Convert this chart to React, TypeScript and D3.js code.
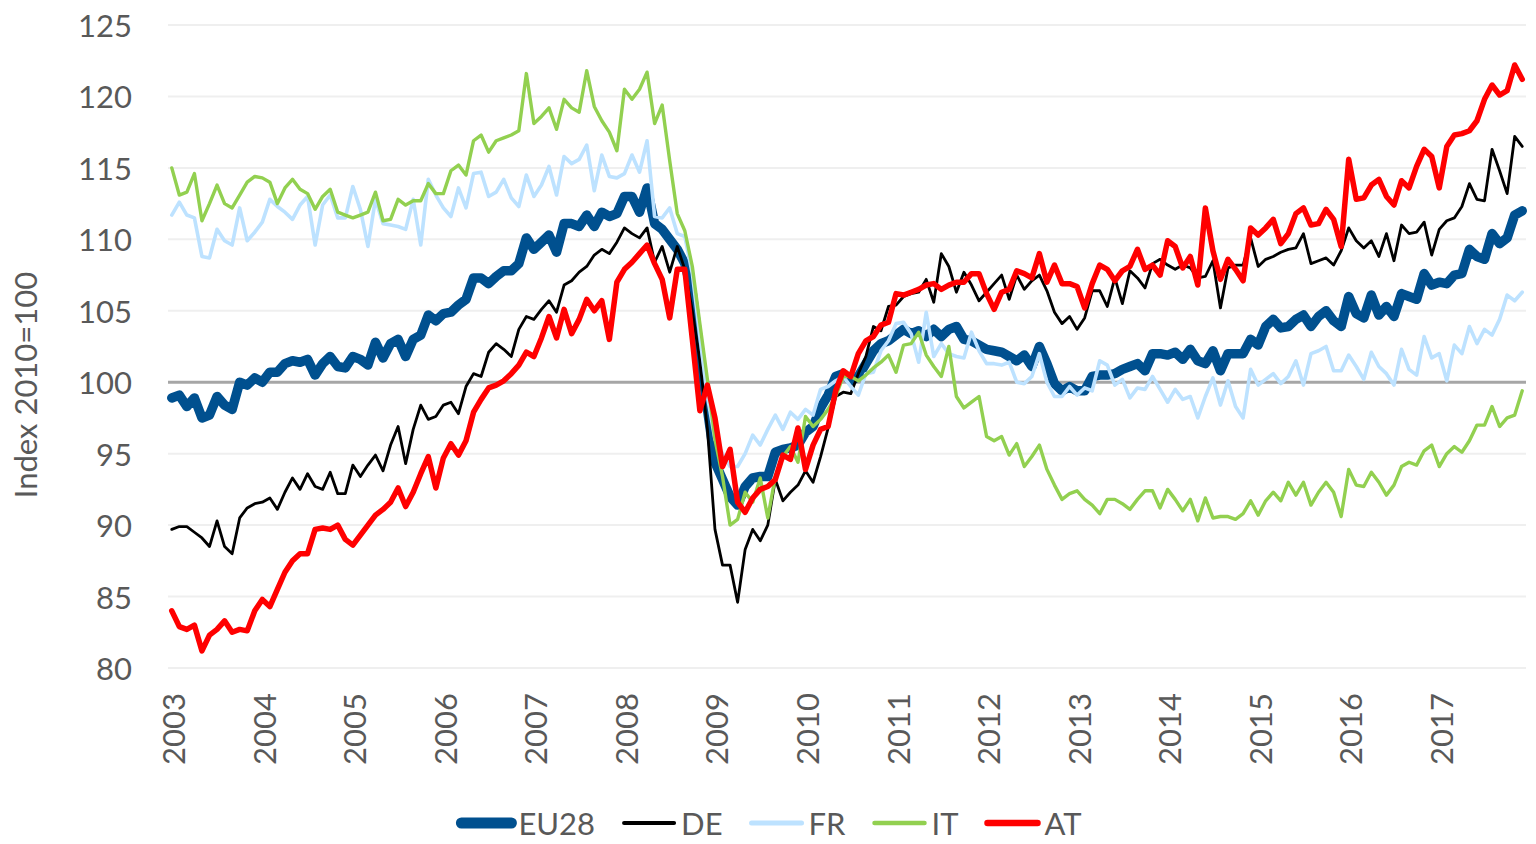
import React from "react";
import * as d3 from "d3";

const years = ["2003","2004","2005","2006","2007","2008","2009","2010","2011","2012","2013","2014","2015","2016","2017"];
const monthsPerYear = 12;
const yTicks = [80, 85, 90, 95, 100, 105, 110, 115, 120, 125];

const eu28 = [
  98.9, 99.1, 98.3, 98.9, 97.5, 97.7, 99.0, 98.4, 98.1, 100.0, 99.8, 100.3,
  100.0, 100.7, 100.7, 101.3, 101.5, 101.4, 101.6, 100.5, 101.3, 101.8, 101.1, 101.0,
  101.8, 101.6, 101.2, 102.8, 101.7, 102.7, 103.0, 101.8, 103.0, 103.3, 104.7, 104.3,
  104.8, 104.9, 105.4, 105.8, 107.3, 107.3, 106.9, 107.4, 107.8, 107.8, 108.3, 110.1,
  109.3, 109.8, 110.3, 109.1, 111.1, 111.1, 110.9, 111.7, 110.9, 111.9, 111.6, 111.8,
  113.0, 113.0, 111.9, 113.6, 111.1, 110.7, 110.0, 109.3, 108.3, 106.2, 102.0, 98.1,
  94.4, 93.2, 92.0, 91.4, 92.7, 93.3, 93.4, 93.4, 95.1, 95.3, 95.4, 95.6,
  96.5, 96.9, 98.2, 99.1, 100.4, 100.6, 100.1, 100.4, 101.3, 102.2, 102.7, 102.9,
  103.3, 103.7, 103.4, 103.6, 103.2, 103.7, 103.2, 103.7, 103.9, 103.0, 102.9, 102.6,
  102.3, 102.2, 102.1, 101.8, 101.5, 101.9, 101.1, 102.5, 101.3, 99.9, 99.4, 99.7,
  99.4, 99.4, 100.4, 100.5, 100.5, 100.6, 100.9, 101.1, 101.3, 100.8, 102.0, 102.0,
  101.9, 102.1, 101.6, 102.3, 101.5, 101.3, 102.2, 100.8, 102.0, 102.0, 102.0, 103.0,
  102.6, 103.9, 104.4, 103.8, 103.9, 104.4, 104.7, 103.9, 104.6, 105.0, 104.3, 103.9,
  106.0, 104.8, 104.5, 106.1, 104.7, 105.3, 104.6, 106.2, 106.0, 105.8, 107.6, 106.8,
  107.0, 106.9, 107.5, 107.6, 109.3, 108.8, 108.6, 110.4, 109.7, 110.1, 111.7, 112.0
];

const de = [
  89.7, 89.9, 89.9, 89.5, 89.1, 88.5, 90.3, 88.5, 88.0, 90.5, 91.2, 91.5,
  91.6, 91.9, 91.1, 92.3, 93.3, 92.5, 93.6, 92.7, 92.5, 93.7, 92.2, 92.2,
  94.2, 93.4, 94.2, 94.9, 93.8, 95.6, 96.9, 94.3, 96.7, 98.4, 97.4, 97.6,
  98.4, 98.6, 97.8, 99.7, 100.6, 100.4, 102.1, 102.7, 102.3, 101.8, 103.7, 104.6,
  104.4, 105.1, 105.7, 104.9, 106.8, 107.1, 107.7, 108.1, 108.9, 109.3, 109.0, 109.8,
  110.8, 110.4, 110.1, 110.8, 108.4, 109.5, 107.7, 109.5, 107.9, 105.0, 101.5, 96.7,
  89.7, 87.2, 87.2, 84.6, 88.3, 89.7, 88.9, 90.0, 93.2, 91.7, 92.3, 92.8,
  93.8, 93.0, 94.8, 96.8, 99.0, 99.3, 99.2, 100.6, 101.8, 103.9, 103.6, 105.3,
  105.4, 106.0, 106.2, 106.3, 107.2, 105.6, 109.0, 108.1, 106.3, 107.7, 106.8, 105.7,
  106.3, 106.9, 107.5, 105.8, 107.5, 106.5, 107.1, 107.5, 106.4, 104.9, 104.1, 104.6,
  103.7, 104.5, 106.4, 106.4, 105.3, 107.3, 105.5, 107.8, 107.3, 106.6, 108.3, 108.6,
  108.2, 107.9, 108.2, 108.0, 107.3, 107.4, 108.5, 105.2, 108.0, 108.2, 108.2, 110.1,
  108.1, 108.6, 108.8, 109.1, 109.3, 109.4, 110.4, 108.3, 108.5, 108.7, 108.2, 109.2,
  110.8, 109.9, 109.4, 109.9, 108.8, 110.4, 108.5, 111.0, 110.4, 110.5, 111.2, 108.9,
  110.7, 111.3, 111.5, 112.3, 113.9, 112.8, 112.7, 116.3, 114.8, 113.2, 117.2, 116.5
];

const fr = [
  111.7, 112.6, 111.7, 111.5, 108.8, 108.7, 110.7, 109.9, 109.6, 112.2, 109.9, 110.5,
  111.2, 112.8, 112.3, 111.9, 111.4, 112.4, 113.0, 109.6, 112.4, 113.1, 111.5, 111.5,
  113.7, 112.1, 109.5, 112.8, 111.1, 111.0, 110.9, 110.7, 112.8, 109.6, 114.2, 113.1,
  112.2, 111.6, 113.6, 112.2, 114.6, 114.7, 113.0, 113.3, 114.2, 112.9, 112.3, 114.5,
  113.0, 113.8, 115.1, 113.1, 115.8, 115.3, 115.6, 116.6, 113.4, 115.9, 114.4, 114.3,
  114.6, 115.9, 114.7, 116.9, 111.6, 111.5, 112.2, 110.4, 110.2, 107.6, 103.2, 99.0,
  96.0, 95.0, 94.1, 94.1, 95.0, 96.3, 95.6, 96.7, 97.7, 96.7, 97.9, 97.4,
  98.1, 97.7, 99.5, 99.7, 100.1, 100.4, 99.7, 99.1, 100.6, 100.7, 102.2, 102.9,
  104.1, 104.2, 103.4, 101.4, 104.9, 101.8, 102.7, 102.0, 101.8, 101.7, 103.5, 102.2,
  101.3, 101.3, 101.2, 101.4, 100.0, 99.9, 100.4, 102.0, 100.0, 99.0, 99.0, 99.7,
  99.1, 99.6, 99.4, 101.5, 101.2, 99.8, 100.2, 98.9, 99.6, 99.5, 100.4, 99.5,
  98.6, 99.5, 98.8, 99.0, 97.5, 99.0, 100.3, 98.4, 100.1, 98.3, 97.5, 100.9,
  99.8, 100.2, 100.6, 99.9, 100.4, 101.5, 99.8, 102.0, 102.2, 102.5, 100.8, 100.8,
  101.9, 101.1, 100.2, 102.1, 101.1, 100.6, 99.8, 102.3, 100.9, 100.5, 103.2, 101.7,
  102.0, 100.1, 102.6, 102.0, 103.9, 102.7, 103.7, 103.3, 104.4, 106.1, 105.7, 106.3
];

const it = [
  115.0, 113.1, 113.3, 114.6, 111.3, 112.5, 113.8, 112.5, 112.2, 113.1, 114.0, 114.4,
  114.3, 114.0, 112.5, 113.6, 114.2, 113.5, 113.2, 112.1, 113.0, 113.5, 111.9, 111.7,
  111.5, 111.7, 111.9, 113.3, 111.3, 111.4, 112.8, 112.4, 112.7, 112.7, 113.9, 113.2,
  113.2, 114.8, 115.2, 114.5, 116.9, 117.3, 116.1, 116.9, 117.1, 117.3, 117.6, 121.6,
  118.1, 118.6, 119.2, 117.7, 119.8, 119.2, 118.9, 121.8, 119.3, 118.3, 117.5, 116.2,
  120.5, 119.8, 120.5, 121.7, 118.1, 119.4, 115.5, 111.8, 110.6, 108.1, 104.1, 100.2,
  96.0, 93.4, 90.0, 90.4, 92.3, 91.6, 93.3, 90.5, 93.4, 94.8, 95.5, 94.4,
  97.6, 96.9, 97.4, 98.1, 99.0, 100.4, 100.4, 100.1, 100.5, 101.0, 101.4, 101.9,
  100.7, 102.6, 102.7, 103.5, 101.9, 101.1, 100.4, 102.5, 99.0, 98.2, 98.6, 99.0,
  96.2, 95.9, 96.2, 94.9, 95.7, 94.1, 94.8, 95.6, 93.9, 92.8, 91.8, 92.2,
  92.4, 91.8, 91.4, 90.8, 91.8, 91.8, 91.5, 91.1, 91.8, 92.4, 92.4, 91.2,
  92.5, 91.8, 91.0, 91.8, 90.3, 91.9, 90.5, 90.6, 90.6, 90.4, 90.8, 91.7,
  90.7, 91.7, 92.3, 91.7, 93.0, 92.1, 93.0, 91.4, 92.3, 93.0, 92.3, 90.6,
  93.9, 92.8, 92.7, 93.7, 93.0, 92.1, 92.8, 94.1, 94.4, 94.2, 95.2, 95.6,
  94.1, 95.0, 95.5, 95.1, 95.9, 97.0, 97.0, 98.3, 96.9, 97.5, 97.7, 99.4
];

const at = [
  84.0, 82.9, 82.7, 83.0, 81.2, 82.3, 82.7, 83.3, 82.5, 82.7, 82.6, 84.0,
  84.8, 84.3, 85.5, 86.7, 87.5, 88.0, 88.0, 89.7, 89.8, 89.7, 90.0, 89.0,
  88.6, 89.3, 90.0, 90.7, 91.1, 91.6, 92.6, 91.3, 92.3, 93.6, 94.8, 92.6,
  94.7, 95.7, 94.9, 95.9, 97.9, 98.8, 99.6, 99.8, 100.1, 100.6, 101.2, 102.1,
  101.8, 103.1, 104.6, 103.1, 105.1, 103.4, 104.4, 105.8, 105.0, 105.7, 103.0, 107.0,
  107.9, 108.4, 109.0, 109.6, 108.3, 107.2, 104.5, 107.9, 107.9, 103.0, 98.0, 99.8,
  97.5, 94.1, 95.3, 91.6, 90.9, 91.9, 92.5, 92.7, 93.2, 94.9, 94.6, 96.8,
  93.9, 95.6, 96.7, 96.9, 99.4, 100.8, 100.4, 102.0, 102.9, 103.2, 104.0, 104.2,
  106.2, 106.1, 106.3, 106.5, 106.8, 106.9, 106.5, 106.8, 107.0, 107.0, 107.6, 107.6,
  106.2, 105.1, 106.3, 106.5, 107.8, 107.6, 107.3, 109.0, 107.0, 108.2, 106.9, 106.9,
  106.7, 105.2, 106.9, 108.2, 107.9, 107.1, 107.8, 108.1, 109.3, 107.9, 108.2, 107.5,
  109.9, 109.5, 108.0, 108.8, 106.8, 112.2, 109.2, 107.2, 108.6, 107.9, 107.1, 110.8,
  110.3, 110.8, 111.4, 109.7, 110.4, 111.8, 112.2, 111.0, 111.1, 112.1, 111.4, 109.5,
  115.6, 112.8, 112.9, 113.8, 114.2, 113.0, 112.4, 114.1, 113.6, 115.1, 116.3, 115.8,
  113.6, 116.5, 117.3, 117.4, 117.6, 118.3, 119.8, 120.8, 120.1, 120.4, 122.2, 121.2
];

const seriesNames = ["EU28", "DE", "FR", "IT", "AT"];
const seriesValues = [eu28, de, fr, it, at];
const seriesColors = ["#00508F", "#000000", "#BDE2FF", "#92D050", "#FF0000"];
const seriesWidths = [9.5, 2.8, 3.6, 3.4, 5.5];
const legendWidths = [11, 4, 5, 4.5, 6.5];

const W = 1536;
const H = 844;
const FONT = "Lato, 'Open Sans', sans-serif";
const FS = 31;
const TEXT = "#595959";

const categories = years.flatMap((y) => d3.range(monthsPerYear).map((m) => `${y}-${m + 1}`));

function measure(text: string): number {
  if (typeof document === "undefined") return text.length * 18;
  const c = document.createElement("canvas").getContext("2d");
  if (!c) return text.length * 18;
  c.font = `${FS}px Lato`;
  return c.measureText(text).width;
}

export default function App() {
  const x = d3.scalePoint<string>().domain(categories).range([168, 1526]).padding(0.5);
  const y = d3.scaleLinear().domain([80, 125]).range([668, 25]);

  const line = d3
    .line<number>()
    .x((_, i) => x(categories[i]) as number)
    .y((d) => y(d));

  // legend layout
  const lineLen = 56;
  const gapText = 4;
  const gapItem = 26;
  const widths = seriesNames.map((n) => measure(n));
  const itemW = widths.map((w) => lineLen + gapText + w);
  const total = d3.sum(itemW) + gapItem * (seriesNames.length - 1);
  let cursor = 770 - total / 2;
  const legendItems = seriesNames.map((n, k) => {
    const start = cursor;
    cursor += itemW[k] + gapItem;
    return { name: n, start, k };
  });
  const legendY = 823;

  return (
    <svg
      width={W}
      height={H}
      style={{ position: "absolute", left: 0, top: 0, background: "#fff" }}
      fontFamily={FONT}
    >
      {/* gridlines */}
      {yTicks.map((t) => (
        <line
          key={t}
          x1={168}
          x2={1526}
          y1={y(t)}
          y2={y(t)}
          stroke={t === 100 ? "#A6A6A6" : "#EFEFEF"}
          strokeWidth={t === 100 ? 3 : 2}
        />
      ))}
      {/* y tick labels */}
      {yTicks.map((t) => (
        <text
          key={"l" + t}
          x={132}
          y={y(t)}
          textAnchor="end"
          dominantBaseline="central"
          fontSize={FS}
          fill={TEXT}
        >
          {t}
        </text>
      ))}
      {/* y title */}
      <text
        transform={`translate(25,385) rotate(-90)`}
        textAnchor="middle"
        dominantBaseline="central"
        fontSize={FS}
        fill={TEXT}
      >
        Index 2010=100
      </text>
      {/* x labels */}
      {years.map((yr, k) => {
        const cx = (x(categories[k * monthsPerYear]) as number) + 1.5;
        return (
          <text
            key={yr}
            transform={`translate(${cx},693) rotate(-90)`}
            textAnchor="end"
            dominantBaseline="central"
            fontSize={FS}
            fill={TEXT}
          >
            {yr}
          </text>
        );
      })}
      {/* series */}
      {seriesValues.map((vals, k) => (
        <path
          key={seriesNames[k]}
          d={line(vals) || ""}
          fill="none"
          stroke={seriesColors[k]}
          strokeWidth={seriesWidths[k]}
          strokeLinejoin="round"
          strokeLinecap="round"
        />
      ))}
      {/* legend */}
      {legendItems.map(({ name, start, k }) => (
        <g key={"lg" + name}>
          <line
            x1={start + 3}
            x2={start + lineLen - 3}
            y1={legendY}
            y2={legendY}
            stroke={seriesColors[k]}
            strokeWidth={legendWidths[k]}
            strokeLinecap="round"
          />
          <text
            x={start + lineLen + gapText}
            y={legendY}
            dominantBaseline="central"
            fontSize={FS}
            fill={TEXT}
          >
            {name}
          </text>
        </g>
      ))}
    </svg>
  );
}
